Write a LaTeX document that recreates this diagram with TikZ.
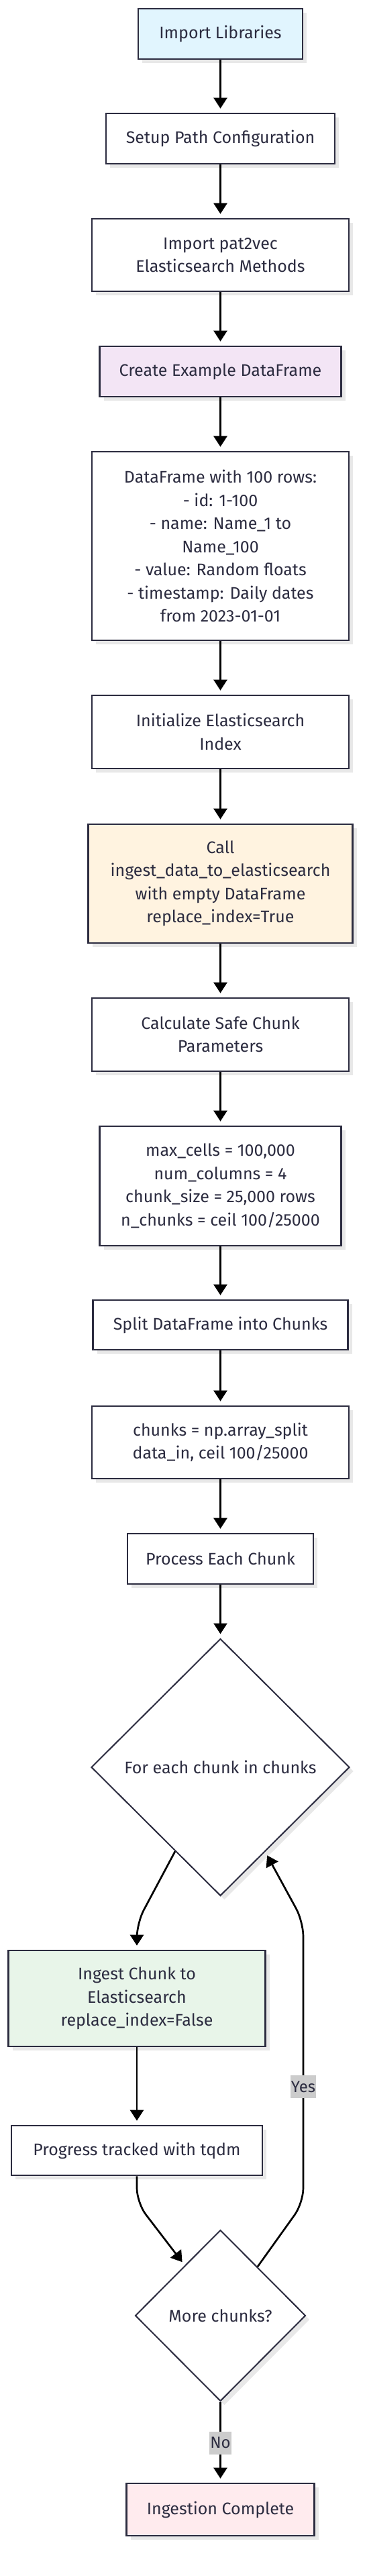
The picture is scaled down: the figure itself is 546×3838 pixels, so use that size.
\documentclass[tikz,border=0pt]{standalone}
\usepackage{fontspec}
\setmainfont{Fira Sans}
\usetikzlibrary{shapes.geometric,arrows.meta,shadows,calc}
\definecolor{bd}{HTML}{2C2C40}
\definecolor{tx}{HTML}{2C2C40}
\definecolor{cblue}{HTML}{E1F5FE}
\definecolor{cpurple}{HTML}{F3E5F5}
\definecolor{corange}{HTML}{FFF3E0}
\definecolor{cgreen}{HTML}{E8F5E9}
\definecolor{cred}{HTML}{FFEBEE}
\definecolor{lblgray}{HTML}{CCCCCC}
\begin{document}
\begin{tikzpicture}[x=1pt,y=-1pt,
  shd/.style={drop shadow={shadow xshift=6pt,shadow yshift=-6pt,fill=black!9,opacity=1}},
  box/.style={rectangle, draw=bd, line width=2.6pt, fill=white, text=tx, align=center,
    inner sep=0pt, font=\fontsize{25}{34.5}\selectfont, shd},
  dec/.style={diamond, aspect=1, draw=bd, line width=2pt, fill=white, text=tx, align=center,
    inner sep=0pt, font=\fontsize{25}{34.5}\selectfont, shd},
  arr/.style={draw=black, line width=2.7pt, -{Triangle[width=20pt,length=16pt]},
    shorten >=6pt, rounded corners=22pt},
  lbl/.style={fill=lblgray, text=tx, inner xsep=1pt, inner ysep=0pt, minimum height=34pt,
    font=\fontsize{24}{28}\selectfont, rounded corners=0pt}
]
\useasboundingbox (0,0) rectangle (546,3838);
\fill[white] (0,0) rectangle (546,3838);

\node[box, fill=cblue, minimum width=245pt, minimum height=75pt] (lib) at (328.5,50.5) {Import Libraries};
\node[box, minimum width=341pt, minimum height=75pt] (path) at (328.5,206.5) {Setup Path Configuration};
\node[box, minimum width=383pt, minimum height=108pt] (imp) at (328.5,380) {Import pat2vec\\Elasticsearch Methods};
\node[box, fill=cpurple, minimum width=360pt, minimum height=75pt] (create) at (328.5,553.5) {Create Example DataFrame};
\node[box, minimum width=383pt, minimum height=281pt] (df) at (328.5,813.5) {DataFrame with 100 rows:\\- id: 1-100\\- name: Name\_1 to\\Name\_100\\- value: Random floats\\- timestamp: Daily dates\\from 2023-01-01};
\node[box, minimum width=383pt, minimum height=109pt] (init) at (328.5,1090.5) {Initialize Elasticsearch\\Index};
\node[box, fill=corange, minimum width=394pt, minimum height=177pt] (call) at (328.5,1316.5) {Call\\ingest\_data\_to\_elasticsearch\\with empty DataFrame\\replace\_index=True};
\node[box, minimum width=383pt, minimum height=109pt] (calc) at (328.5,1541.5) {Calculate Safe Chunk\\Parameters};
\node[box, minimum width=360pt, minimum height=178pt] (maxc) at (328.5,1767) {max\_cells = 100,000\\num\_columns = 4\\chunk\_size = 25,000 rows\\n\_chunks = ceil 100/25000};
\node[box, minimum width=380pt, minimum height=74pt] (split) at (328.5,1974) {Split DataFrame into Chunks};
\node[box, minimum width=383pt, minimum height=108pt] (chunks) at (328.5,2149) {chunks = np.array\_split\\data\_in, ceil 100/25000};
\node[box, minimum width=277pt, minimum height=75pt] (proc) at (328.5,2322.5) {Process Each Chunk};
\node[dec, minimum width=385pt, minimum height=383pt] (d1) at (328.5,2633) {For each chunk in chunks};
\node[box, fill=cgreen, minimum width=383pt, minimum height=143pt] (ingest) at (204,2977.5) {Ingest Chunk to\\Elasticsearch\\replace\_index=False};
\node[box, minimum width=374pt, minimum height=74pt] (prog) at (204,3204) {Progress tracked with tqdm};
\node[dec, minimum width=254pt, minimum height=255pt] (d2) at (328.5,3450) {More chunks?};
\node[box, fill=cred, minimum width=280pt, minimum height=78pt] (done) at (328.5,3739) {Ingestion Complete};

\draw[arr] (lib) -- (path);
\draw[arr] (path) -- (imp);
\draw[arr] (imp) -- (create);
\draw[arr] (create) -- (df);
\draw[arr] (df) -- (init);
\draw[arr] (init) -- (call);
\draw[arr] (call) -- (calc);
\draw[arr] (calc) -- (maxc);
\draw[arr] (maxc) -- (split);
\draw[arr] (split) -- (chunks);
\draw[arr] (chunks) -- (proc);
\draw[arr] (proc) -- (d1);
\draw[arr] ($(d1.west)!0.651!(d1.south)$) -- (204,2865) -- (ingest.north);
\draw[arr] (ingest) -- (prog);
\draw[arr] (prog.south) -- (204,3282) -- ($(d2.west)!0.584!(d2.north)$);
\draw[arr] ($(d2.north)!0.433!(d2.east)$) -- (452,3282) -- node[lbl,pos=0.413] (yes) {Yes} (452,2863) -- ($(d1.east)!0.655!(d1.south)$);
\draw[arr] (d2.south) -- node[lbl,pos=0.51] (no) {No} (done.north);
\end{tikzpicture}
\end{document}
